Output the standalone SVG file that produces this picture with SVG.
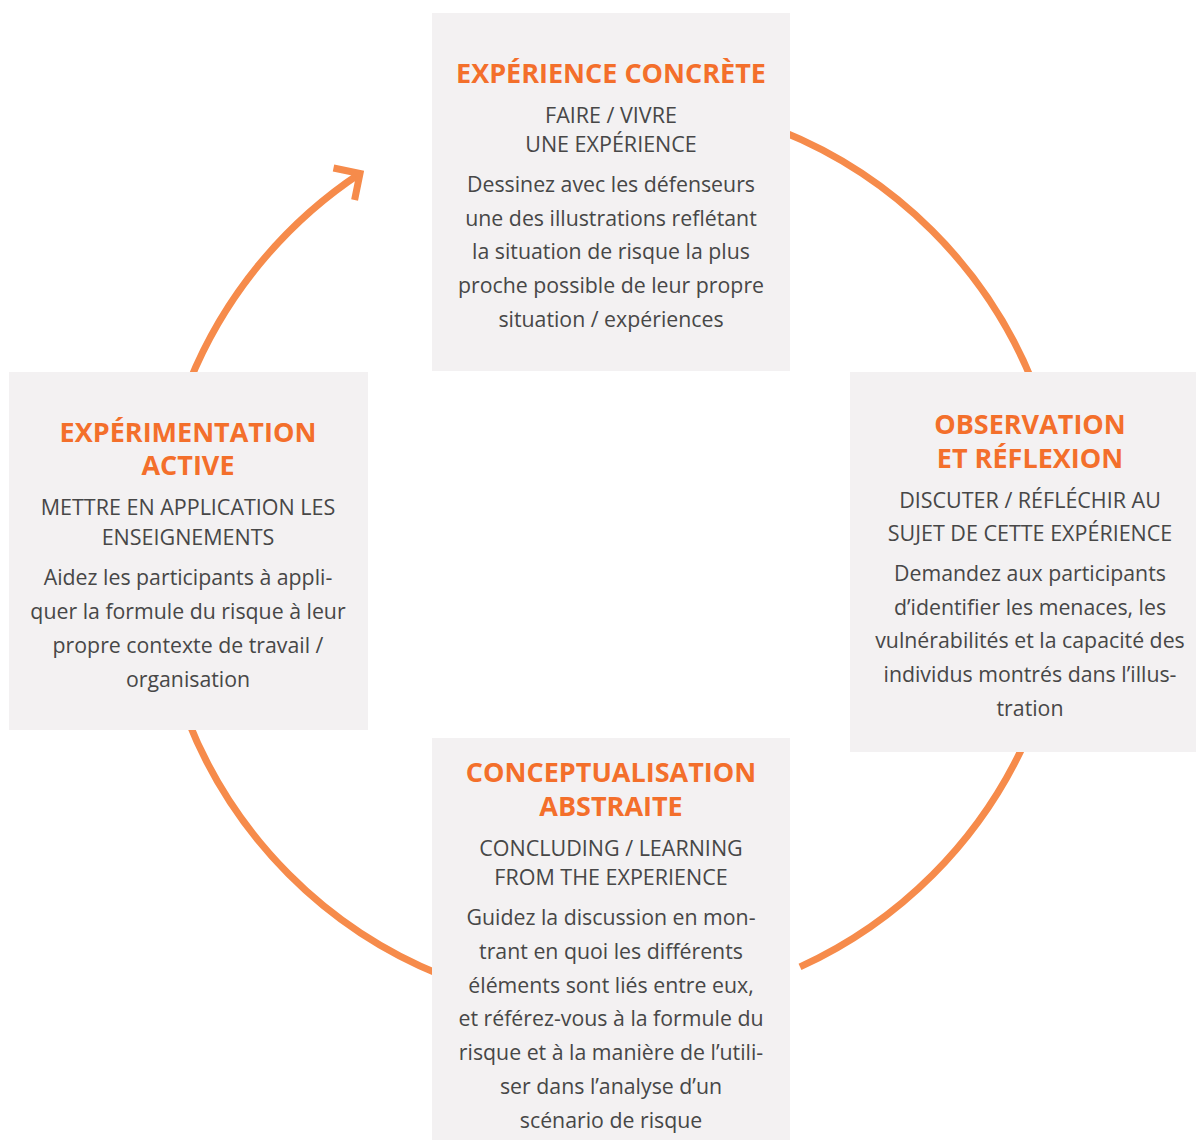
<svg xmlns="http://www.w3.org/2000/svg" width="1196" height="1140" viewBox="0 0 1196 1140">
  <style>
    .box { fill: #f3f1f2; }
    .title { font-family: "Open Sans", "Noto Sans", sans-serif; font-weight: 700; font-size: 27px; fill: #f36f2b; text-anchor: middle; }
    .sub { font-family: "Open Sans", "Noto Sans", sans-serif; font-size: 21.5px; fill: #474747; text-anchor: middle; }
    .body { font-family: "Open Sans", "Noto Sans", sans-serif; font-size: 21.3px; fill: #474747; text-anchor: middle; }
    .arc { fill: none; stroke: #f68b4b; stroke-width: 7; }
  </style>
  <rect width="1196" height="1140" fill="#ffffff"/>

  <!-- cycle arcs (circle centre 611,553, r 455) -->
  <g id="connectors">
    <path class="arc" d="M 780 130.6 A 455 455 0 0 1 1032.6 382"/>
    <path class="arc" d="M 1024.9 742 A 455 455 0 0 1 800 966.9"/>
    <path class="arc" d="M 442 975.4 A 455 455 0 0 1 187.8 720"/>
    <path class="arc" d="M 189.4 382 A 455 455 0 0 1 360 173.5"/>
    <polyline class="arc" points="333.5,168 360,173.5 354.6,200" stroke-linejoin="miter"/>
  </g>

  <g id="experience-concrete">
    <rect class="box" x="432" y="13" width="358" height="358"/>
    <text class="title" x="611" y="83">EXPÉRIENCE CONCRÈTE</text>
    <text class="sub" x="611" y="123">FAIRE / VIVRE</text>
    <text class="sub" x="611" y="152">UNE EXPÉRIENCE</text>
    <text class="body" x="611" y="192">Dessinez avec les défenseurs</text>
    <text class="body" x="611" y="226">une des illustrations reflétant</text>
    <text class="body" x="611" y="259">la situation de risque la plus</text>
    <text class="body" x="611" y="293">proche possible de leur propre</text>
    <text class="body" x="611" y="327">situation / expériences</text>
  </g>

  <g id="observation-reflexion">
    <rect class="box" x="850" y="372" width="346" height="380"/>
    <text class="title" x="1030" y="434">OBSERVATION</text>
    <text class="title" x="1030" y="468">ET RÉFLEXION</text>
    <text class="sub" x="1030" y="508">DISCUTER / RÉFLÉCHIR AU</text>
    <text class="sub" x="1030" y="541">SUJET DE CETTE EXPÉRIENCE</text>
    <text class="body" x="1030" y="581">Demandez aux participants</text>
    <text class="body" x="1030" y="615">d’identifier les menaces, les</text>
    <text class="body" x="1030" y="648">vulnérabilités et la capacité des</text>
    <text class="body" x="1030" y="682">individus montrés dans l’illus-</text>
    <text class="body" x="1030" y="716">tration</text>
  </g>

  <g id="conceptualisation-abstraite">
    <rect class="box" x="432" y="738" width="358" height="402"/>
    <text class="title" x="611" y="782">CONCEPTUALISATION</text>
    <text class="title" x="611" y="816">ABSTRAITE</text>
    <text class="sub" x="611" y="856">CONCLUDING / LEARNING</text>
    <text class="sub" x="611" y="885">FROM THE EXPERIENCE</text>
    <text class="body" x="611" y="925">Guidez la discussion en mon-</text>
    <text class="body" x="611" y="959">trant en quoi les différents</text>
    <text class="body" x="611" y="993">éléments sont liés entre eux,</text>
    <text class="body" x="611" y="1026">et référez-vous à la formule du</text>
    <text class="body" x="611" y="1060">risque et à la manière de l’utili-</text>
    <text class="body" x="611" y="1094">ser dans l’analyse d’un</text>
    <text class="body" x="611" y="1128">scénario de risque</text>
  </g>

  <g id="experimentation-active">
    <rect class="box" x="9" y="372" width="359" height="358"/>
    <text class="title" x="188" y="442">EXPÉRIMENTATION</text>
    <text class="title" x="188" y="475">ACTIVE</text>
    <text class="sub" x="188" y="515">METTRE EN APPLICATION LES</text>
    <text class="sub" x="188" y="545">ENSEIGNEMENTS</text>
    <text class="body" x="188" y="585">Aidez les participants à appli-</text>
    <text class="body" x="188" y="619">quer la formule du risque à leur</text>
    <text class="body" x="188" y="653">propre contexte de travail /</text>
    <text class="body" x="188" y="687">organisation</text>
  </g>
</svg>
